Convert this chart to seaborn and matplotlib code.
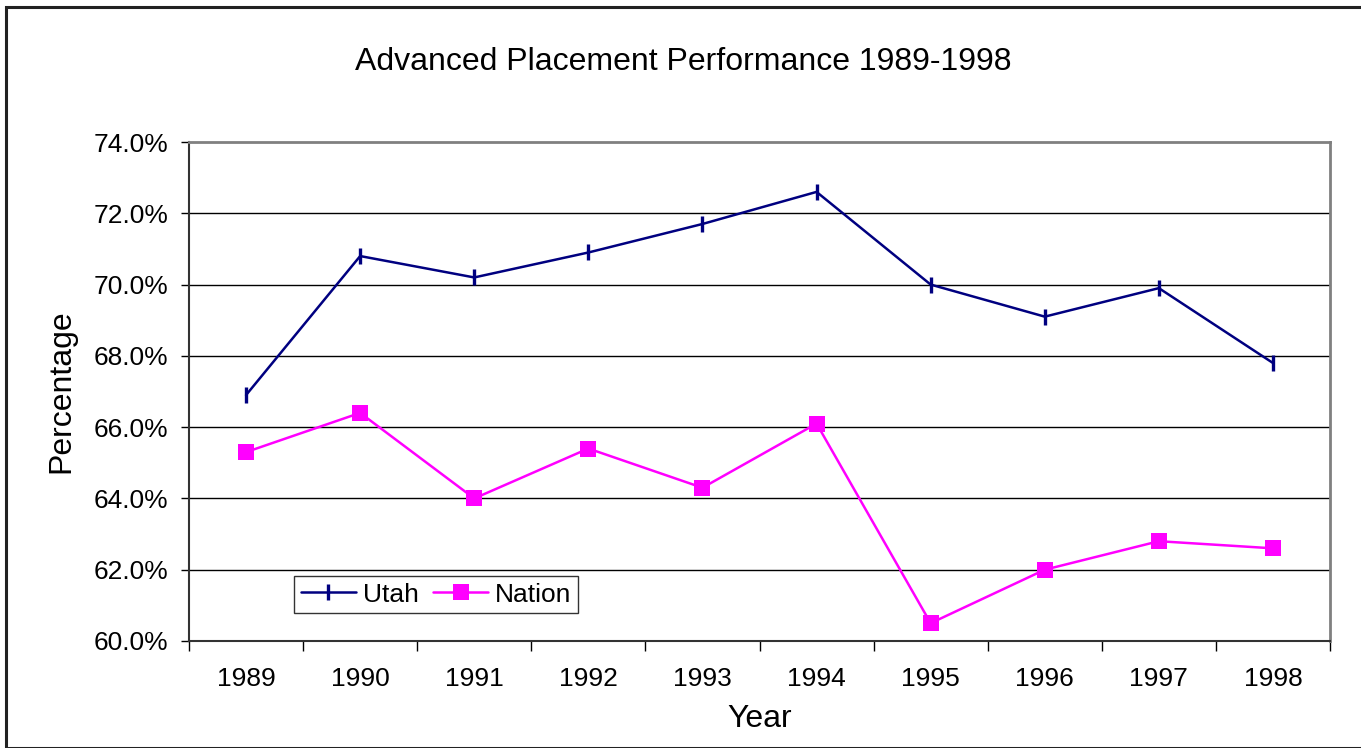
import numpy as np
import pandas as pd
import matplotlib
matplotlib.use("Agg")
import matplotlib.pyplot as plt
import seaborn as sns
from matplotlib.ticker import FixedLocator, FuncFormatter

years = ["1989", "1990", "1991", "1992", "1993", "1994", "1995", "1996", "1997", "1998"]
utah = [66.9, 70.8, 70.2, 70.9, 71.7, 72.6, 70.0, 69.1, 69.9, 67.8]
nation = [65.3, 66.4, 64.0, 65.4, 64.3, 66.1, 60.5, 62.0, 62.8, 62.6]
y_ticks = [60, 62, 64, 66, 68, 70, 72, 74]

sns.set_theme(style="white")
plt.rcParams['font.family'] = ['Liberation Sans', 'DejaVu Sans']
plt.rcParams['text.color'] = 'black'
plt.rcParams['axes.labelcolor'] = 'black'
plt.rcParams['xtick.color'] = 'black'
plt.rcParams['ytick.color'] = 'black'

W, H = 1361, 748
fig = plt.figure(figsize=(W / 100, H / 100), dpi=100)
fig.patch.set_facecolor("white")

# outer chart border
fig.add_artist(plt.Rectangle((6 / W, 0), (W + 10) / W, 1 - 7 / H, transform=fig.transFigure,
                             fill=False, edgecolor="#222222", linewidth=2.2, clip_on=False))

ax = fig.add_axes([189 / W, (H - 641) / H, (1330 - 189) / W, (641 - 142) / H])

pos = np.arange(len(years))
df = pd.DataFrame({"pos": pos, "Utah": utah, "Nation": nation})

sns.lineplot(data=df, x="pos", y="Utah", ax=ax, color="#000080", linewidth=1.8,
             marker="|", markersize=12, markeredgewidth=2.4, markeredgecolor="#000080",
             label="Utah")
sns.lineplot(data=df, x="pos", y="Nation", ax=ax, color="#FF00FF", linewidth=1.8,
             marker="s", markersize=11.5, markeredgewidth=0, markerfacecolor="#FF00FF",
             label="Nation")

ax.set_xlim(-0.5, len(years) - 0.5)
ax.set_ylim(60, 74)

ax.yaxis.set_major_locator(FixedLocator(y_ticks))
ax.yaxis.set_major_formatter(FuncFormatter(lambda v, p: f"{v:.1f}%"))
ax.tick_params(axis="y", which="major", direction="out", length=6, width=1, color="black",
               labelsize=19, pad=9, left=True, labelcolor="black")

ax.xaxis.set_major_locator(FixedLocator(np.arange(-0.5, len(years), 1.0)))
ax.xaxis.set_minor_locator(FixedLocator(pos))
ax.xaxis.set_major_formatter(FuncFormatter(lambda v, p: ""))
ax.set_xticks(pos, labels=years, minor=True)
ax.tick_params(axis="x", which="major", direction="out", length=7, width=1, color="black", bottom=True)
ax.tick_params(axis="x", which="minor", length=0, labelsize=19, pad=19, labelcolor="black")

for yv in y_ticks[1:-1]:
    ax.axhline(yv, color="black", linewidth=1.0, zorder=0)

for side in ["top", "right"]:
    ax.spines[side].set_color("#808080")
    ax.spines[side].set_linewidth(2)
ax.spines["left"].set_color("#333333")
ax.spines["left"].set_linewidth(1.5)
ax.spines["bottom"].set_color("#333333")
ax.spines["bottom"].set_linewidth(1.5)
for s in ax.spines.values():
    s.set_visible(True)

ax.set_xlabel("Year", fontsize=23, labelpad=9, color="black")
ax.set_ylabel("Percentage", fontsize=23, labelpad=12, color="black")
fig.text((355 + 1012) / 2 / W, 1 - 62 / H, "Advanced Placement Performance 1989-1998",
         ha="center", va="center", fontsize=23, color="black")

leg = ax.legend(loc="upper left", bbox_to_anchor=((294 - 189) / 1141, (641 - 576) / 499),
                ncol=2, fontsize=19, frameon=True, fancybox=False,
                handlelength=2.1, handletextpad=0.25, columnspacing=0.55, borderpad=0.25,
                borderaxespad=0)
leg.get_frame().set_edgecolor("black")
leg.get_frame().set_linewidth(1.0)
for t in leg.get_texts():
    t.set_color("black")

fig.savefig("out.png", dpi=100, facecolor="white")
